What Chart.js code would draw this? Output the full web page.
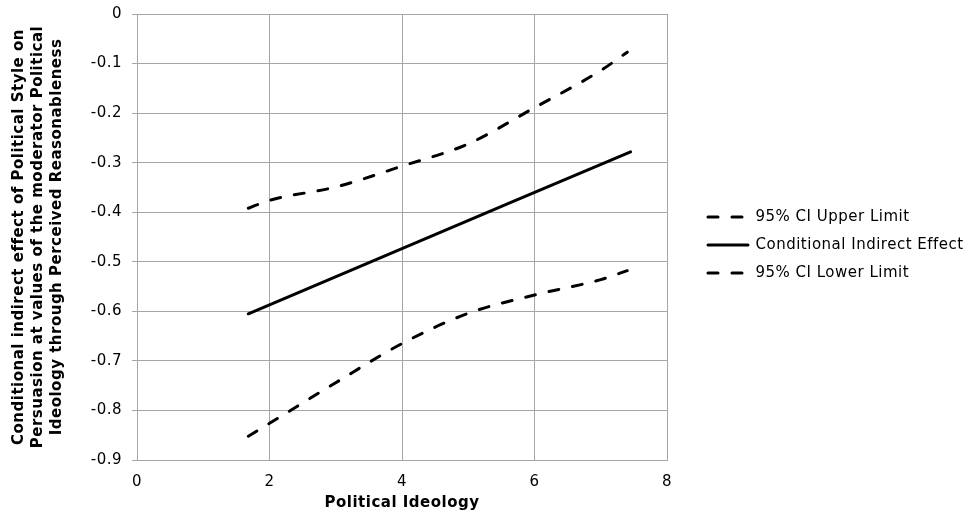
<!DOCTYPE html>
<html><head><meta charset="utf-8">
<script src="https://cdn.jsdelivr.net/npm/chart.js@4.4.0/dist/chart.umd.min.js"></script>
<style>html,body{margin:0;padding:0;background:#fff;} canvas{display:block;}</style>
</head><body>
<canvas id="c" width="966" height="516"></canvas>
<script>
const xTickValues = [0, 2, 4, 6, 8];
const yTickValues = [0, -0.1, -0.2, -0.3, -0.4, -0.5, -0.6, -0.7, -0.8, -0.9];
const seriesNames = ['95% CI Upper Limit', 'Conditional Indirect Effect', '95% CI Lower Limit'];
const upperX = [1.68, 2, 3, 4, 5, 6, 7, 7.40];
const upperY = [-0.392, -0.376, -0.349, -0.307, -0.262, -0.189, -0.114, -0.077];
const effectX = [1.68, 7.45];
const effectY = [-0.605, -0.278];
const lowerX = [1.68, 2, 3, 4, 5, 6, 7, 7.40];
const lowerY = [-0.852, -0.826, -0.744, -0.665, -0.604, -0.567, -0.536, -0.518];
const xTitle = 'Political Ideology';
const yTitle = ['Conditional indirect effect of Political Style on', 'Persuasion at values of the moderator Political', 'Ideology through Perceived Reasonableness'];

const toPts = (xs, ys) => xs.map((x, i) => ({x: x, y: ys[i]}));
const FONT = 'DejaVu Sans, Verdana, sans-serif';
const GRID = '#a6a6a6';
const DASH = [10, 14];

const textPlugin = {
  id: 'textTweaks',
  beforeUpdate(chart) { chart.ctx.letterSpacing = '0.5px'; },
  beforeDraw(chart) { chart.ctx.letterSpacing = '0.5px'; },
  afterLayout(chart) {
    const lg = chart.legend;
    if (!lg) return;
    lg.left = 695; lg.right = 966; lg.width = 966 - 695;
    lg.top = 22; lg.bottom = 468; lg.height = 446;
  }
};

const noPad = s => { s.paddingTop = 0; s.paddingBottom = 0; s.paddingLeft = 0; s.paddingRight = 0; };

const lineDs = (label, data, dashed) => ({
  label: label, data: data, showLine: true,
  borderColor: '#000', backgroundColor: '#000', borderWidth: 3,
  borderDash: dashed ? DASH : [], borderCapStyle: 'round', borderJoinStyle: 'round',
  pointRadius: 0, pointHoverRadius: 0, cubicInterpolationMode: 'monotone', fill: false
});

let padTop = 14, padRight = 299;
const chart = new Chart(document.getElementById('c'), {
  type: 'scatter',
  data: {
    datasets: [
      lineDs(seriesNames[0], toPts(upperX, upperY), true),
      lineDs(seriesNames[1], toPts(effectX, effectY), false),
      lineDs(seriesNames[2], toPts(lowerX, lowerY), true)
    ]
  },
  options: {
    responsive: false, animation: false, devicePixelRatio: 1,
    layout: {padding: {top: padTop, right: padRight, bottom: 0, left: 0}},
    plugins: {
      tooltip: {enabled: false},
      legend: {
        position: 'chartArea',
        labels: {
          usePointStyle: true, pointStyle: 'line', pointStyleWidth: 40,
          padding: 13, color: '#000', font: {family: FONT, size: 15},
          generateLabels: (ch) => Chart.defaults.plugins.legend.labels.generateLabels(ch).map((it, i) => {
            const ds = ch.data.datasets[i];
            return Object.assign(it, {lineDash: ds.borderDash, lineWidth: ds.borderWidth, lineCap: 'round', strokeStyle: '#000', fillStyle: '#000', fontColor: '#000'});
          })
        }
      }
    },
    scales: {
      x: {
        type: 'linear', min: 0, max: 8,
        afterBuildTicks: s => { s.ticks = xTickValues.map(v => ({value: v})); },
        afterFit: s => { s.height = 56; noPad(s); },
        grid: {color: GRID, lineWidth: 1, drawTicks: false},
        border: {color: GRID, width: 1},
        ticks: {color: '#000', padding: 13, font: {family: FONT, size: 15}, callback: v => String(v)},
        title: {display: true, text: xTitle, color: '#000', font: {family: FONT, size: 15, weight: 'bold', lineHeight: '17px'}, padding: {top: 0, bottom: 4.5}}
      },
      y: {
        type: 'linear', min: -0.9, max: 0,
        afterBuildTicks: s => { s.ticks = yTickValues.map(v => ({value: v})); },
        afterFit: s => { s.width = 137; noPad(s); },
        grid: {color: GRID, lineWidth: 1, drawTicks: true, tickLength: 5},
        border: {color: GRID, width: 1},
        ticks: {color: '#000', padding: 10, font: {family: FONT, size: 15}, callback: v => String(Math.round(v * 10) / 10)},
        title: {display: true, text: yTitle, color: '#000', font: {family: FONT, size: 15, weight: 'bold', lineHeight: '19px'}, padding: {top: 9.5, bottom: 0}}
      }
    }
  },
  plugins: [textPlugin]
});
for (let k = 0; k < 3; k++) {
  const ca = chart.chartArea;
  const dt = ca.top - 14, dr = ca.right - 667;
  if (Math.abs(dt) < 0.5 && Math.abs(dr) < 0.5) break;
  padTop -= dt; padRight += dr;
  chart.options.layout.padding = {top: padTop, right: padRight, bottom: 0, left: 0};
  chart.update();
}
</script>
</body></html>
